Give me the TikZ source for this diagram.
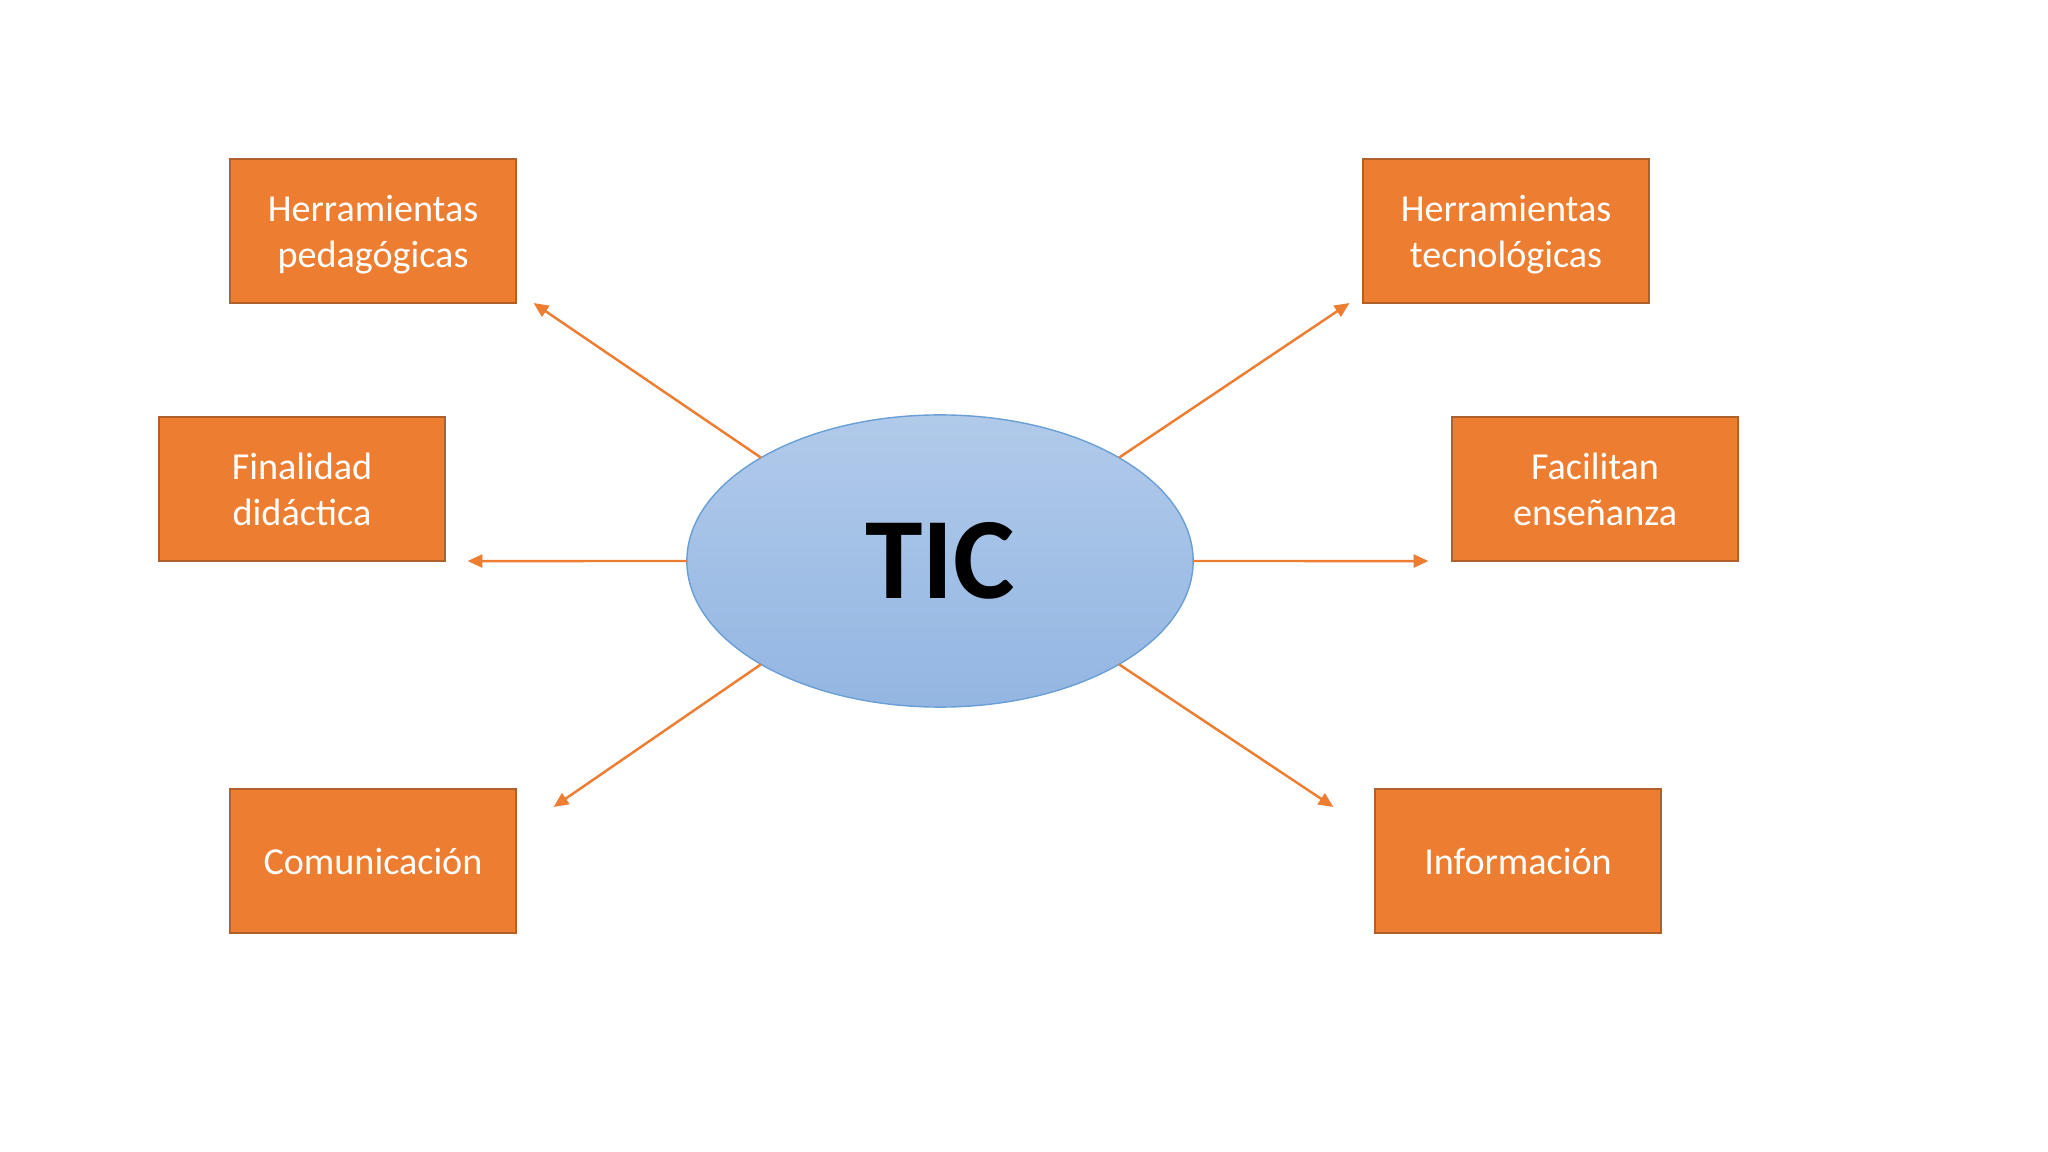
\documentclass[tikz,border=0pt]{standalone}
\usepackage{fontspec}
\setmainfont{Carlito}
\usepackage{tikz}
\usetikzlibrary{arrows.meta}
\usetikzlibrary{shapes}
\usetikzlibrary{positioning}
\definecolor{boxorange}{HTML}{ED7D31}
\definecolor{boxedge}{HTML}{B0602A}
\definecolor{tictop}{HTML}{B1CAEA}
\definecolor{ticbottom}{HTML}{93B6E2}
\definecolor{ticedge}{HTML}{6A9FD6}
\tikzset{
  idea/.style={rectangle, fill=boxorange, draw=boxedge, line width=0.6pt,
    minimum width=2.85cm, minimum height=1.44cm, inner sep=0pt, outer sep=0pt,
    text depth=0pt, align=center, text=white,
    font=\fontsize{10.85pt}{13.1pt}\selectfont},
  centre/.style={ellipse, draw=ticedge, line width=0.4pt,
    top color=tictop, bottom color=ticbottom,
    minimum width=5.06cm, minimum height=2.92cm, inner sep=0pt, outer sep=0pt,
    font=\fontsize{33pt}{33pt}\selectfont\bfseries}
}
\begin{document}
\begin{tikzpicture}[x=0.01cm, y=-0.01cm, >={Triangle[length=4.2pt,width=3.7pt]}]
      \useasboundingbox (0,0) rectangle (2048,1152);
      \node[centre] (tic) at (940,561)    {TIC};
      \node[idea]   (hp)  at (373,231)    {Herramientas\\pedagógicas};
      \node[idea]   (ht)  at (1506,231)   {Herramientas\\tecnológicas};
      \node[idea]   (fd)  at (302,489)    {Finalidad\\didáctica};
      \node[idea]   (fe)  at (1595,489)   {Facilitan\\enseñanza};
      \node[idea]   (co)  at (373,861)    {Comunicación};
      \node[idea]   (in)  at (1518,861)   {Información};
      % arrow tips stop short of the boxes
      \coordinate (hp_t) at ([xshift=0.18cm]hp.south east);
      \coordinate (ht_t) at ([xshift=-0.14cm]ht.south west);
      \coordinate (fd_t) at ([xshift=0.23cm]fd.south east);
      \coordinate (fe_t) at ([xshift=-0.24cm]fe.south west);
      \coordinate (co_t) at ([xshift=0.38cm, yshift=-0.18cm]co.north east);
      \coordinate (in_t) at ([xshift=-0.42cm, yshift=-0.18cm]in.north west);
      \path[->, color=boxorange, line width=0.7pt]
        (tic.150) edge (hp_t)
        (tic.30)  edge (ht_t)
        (tic.180) edge (fd_t)
        (tic.0)   edge (fe_t)
        (tic.210) edge (co_t)
        (tic.330) edge (in_t);
    \end{tikzpicture}
\end{document}
